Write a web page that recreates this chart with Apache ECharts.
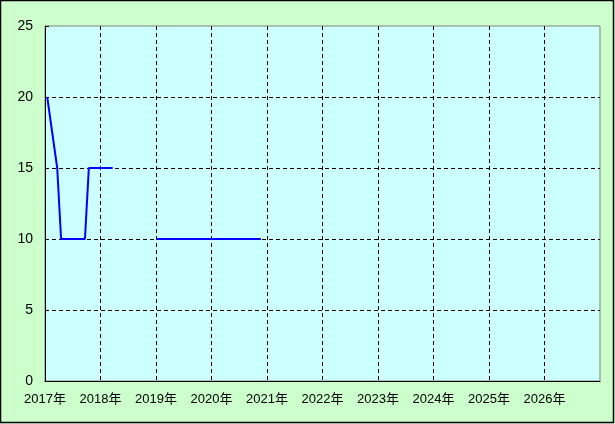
<!DOCTYPE html>
<html>
<head>
<meta charset="utf-8">
<script src="https://cdn.jsdelivr.net/npm/echarts@6/dist/echarts.min.js"></script>
<style>
html,body{margin:0;padding:0;background:#ccffcc;}
#c{width:615px;height:424px;}
</style>
</head>
<body>
<div id="c"></div>
<script>
// Data (x = decimal year, y = value); null breaks the line
const xYears = [2017.04, 2017.22, 2017.29, 2017.72, 2017.79, 2018.22, 2018.6, 2019.0, 2020.89];
const values = [20, 15, 10, 10, 15, 15, null, 10, 10];
const xMin = 2017, xMax = 2027;
const yTicks = [0, 5, 10, 15, 20, 25];
const yearSuffix = '年';

const chart = echarts.init(document.getElementById('c'));
const font = "'Liberation Sans', 'Noto Sans CJK JP', sans-serif";
chart.setOption({
  backgroundColor: '#ccffcc',
  animation: false,
  graphic: [{
    type: 'rect', silent: true, z: 100,
    shape: {x: 0.5, y: 0.5, width: 613, height: 422},
    style: {fill: 'none', stroke: '#000', lineWidth: 1.5}
  }],
  grid: {left: 45, top: 26, right: 15, bottom: 43, show: true,
    backgroundColor: '#ccffff', borderColor: '#808080', borderWidth: 1},
  xAxis: {
    type: 'value', min: xMin, max: xMax, interval: 1,
    axisLine: {show: true, onZero: false, lineStyle: {color: '#000', width: 1}},
    axisTick: {show: false},
    axisLabel: {color: '#000', fontFamily: font, fontSize: 13, margin: 12,
      formatter: v => v >= xMax ? '' : v + yearSuffix},
    splitLine: {show: true, showMaxLine: false, lineStyle: {color: '#000', type: [4, 3], width: 1}}
  },
  yAxis: {
    type: 'value', min: yTicks[0], max: yTicks[yTicks.length - 1], interval: 5,
    axisLine: {show: true, lineStyle: {color: '#000', width: 1}},
    axisTick: {show: true, inside: true, length: 4, lineStyle: {color: '#000'}},
    axisLabel: {color: '#000', fontFamily: font, fontSize: 14, margin: 12},
    splitLine: {show: true, showMaxLine: false, lineStyle: {color: '#000', type: [4, 3], width: 1}}
  },
  series: [{
    type: 'line',
    data: xYears.map((x, i) => [x, values[i]]),
    showSymbol: false,
    connectNulls: false,
    lineStyle: {color: '#0000ff', width: 2},
    itemStyle: {color: '#0000ff'}
  }]
});
</script>
</body>
</html>
